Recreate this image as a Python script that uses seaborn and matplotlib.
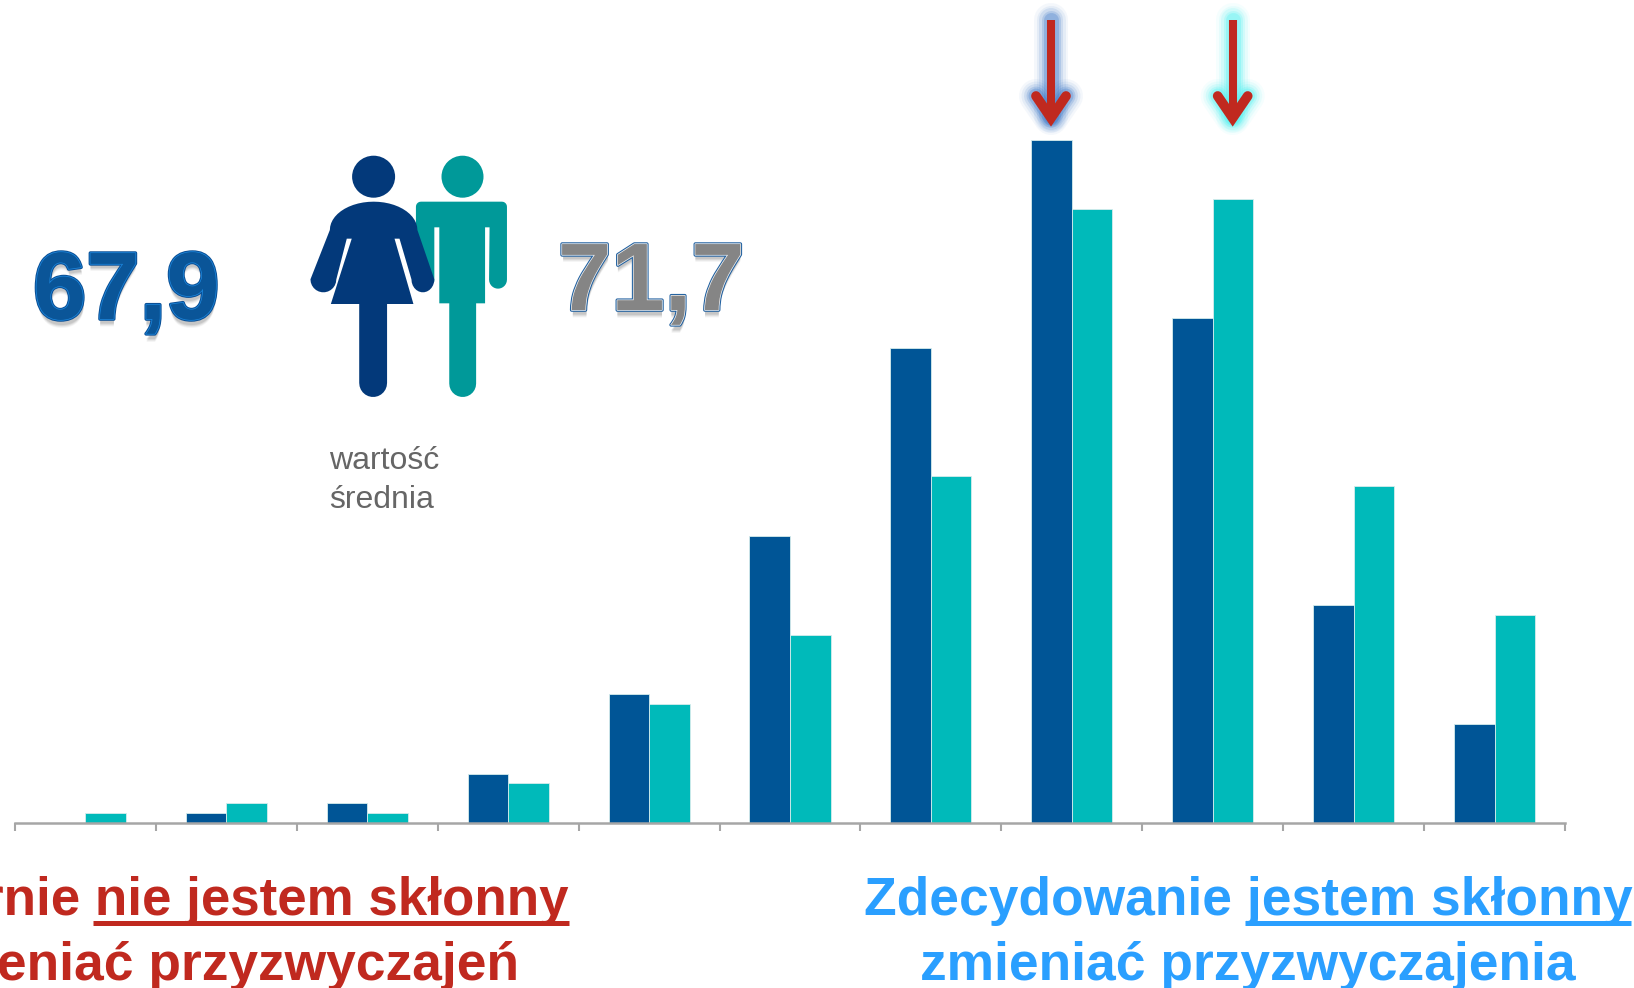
import numpy as np
import pandas as pd
import matplotlib
matplotlib.use("Agg")
import matplotlib.pyplot as plt
import matplotlib.patheffects as pe
from matplotlib.patches import Ellipse, Polygon
import seaborn as sns

# values (no y axis in the source)
categories = [str(i) for i in range(11)]
women = [0, 1, 2, 5, 13, 29, 48, 69, 51, 22, 10]
men = [1, 2, 1, 4, 12, 19, 35, 62, 63, 34, 21]
mean_women = "67,9"
mean_men = "71,7"

W, H = 1634, 988
BLUE = "#005596"
TEAL = "#00BABA"
RED = "#C0291F"
SKY = "#2A9FFF"
GREY = "#A6A6A6"

sns.set_theme(style="white")
plt.rcParams["font.family"] = ["Liberation Sans", "DejaVu Sans"]

df = pd.DataFrame({
    "cat": categories * 2,
    "val": women + men,
    "sex": ["k"] * 11 + ["m"] * 11,
})

fig = plt.figure(figsize=(W / 100, H / 100), dpi=100)
base = 823
ax = fig.add_axes([15 / W, (H - base) / H, 1550 / W, base / H])

sns.barplot(data=df, x="cat", y="val", hue="sex", palette=[BLUE, TEAL], ax=ax, saturation=1,
            width=0.575, gap=0, legend=False, edgecolor="#D6ECEC", linewidth=0.6)
ax.set_xlim(-0.5, 10.5)
ax.set_ylim(0, base / 9.9)
ax.set_xlabel("")
ax.set_ylabel("")
ax.set_yticks([])
ax.set_xticks(np.arange(-0.5, 11, 1))
ax.set_xticklabels([])
ax.tick_params(axis="x", bottom=True, length=6, width=1.5, color=GREY, direction="out", pad=0)
for s in ["top", "left", "right"]:
    ax.spines[s].set_visible(False)
ax.spines["bottom"].set_color(GREY)
ax.spines["bottom"].set_linewidth(1.8)
ax.patch.set_alpha(0)

# overlay in pixel coordinates for the pictograms and captions
ov = fig.add_axes([0, 0, 1, 1])
ov.set_xlim(0, W)
ov.set_ylim(H, 0)
ov.axis("off")
ov.patch.set_alpha(0)


def zp(pts):
    # points measured on the zoomed crop (x scale 2.01, y scale 3)
    return [(x / 2.01, 130 + y / 3) for x, y in pts]


def arc(cx, cy, rx, ry, a0, a1, n=14):
    t = np.radians(np.linspace(a0, a1, n))
    return list(zip(cx + rx * np.cos(t), cy + ry * np.sin(t)))


# man
MAN = "#009999"
ov.add_patch(Ellipse((462.5, 176.7), 42, 42, color=MAN, lw=0))
man_body = (arc(846, 230, 10, 15, 270, 180, 6)
            + [(836, 455), (873, 455), (873, 292), (883, 292), (883, 520), (903, 520)]
            + arc(930, 761, 27, 40, 180, 0)
            + [(957, 520), (975, 520), (975, 292), (984, 292)]
            + arc(1001, 449, 18, 27, 180, 0)
            + arc(1009, 230, 10, 15, 0, -90, 6))
ov.add_patch(Polygon(zp(man_body), closed=True, color=MAN, lw=0))

# woman
NAVY = "#03397A"
ov.add_patch(Ellipse((373.6, 176.7), 43, 42, color=NAVY, lw=0))
woman_body = (arc(751, 300, 88, 85, 270, 180)
              + arc(650, 448, 26, 39, 180, 0)
              + [(697, 326), (707, 326), (665, 522), (722, 522)]
              + arc(750, 759, 28, 42, 180, 0)
              + [(778, 522), (831, 522), (793, 326), (803, 326)]
              + arc(850, 448, 23, 39, 180, 0)
              + arc(751, 300, 88, 85, 0, -90))
ov.add_patch(Polygon(zp(woman_body), closed=True, color=NAVY, lw=0))

ov.text(329, 461, "wartość", fontsize=23, color="#666666", va="center", ha="left")
ov.text(329, 500, "średnia", fontsize=23, color="#666666", va="center", ha="left")


# bevelled numbers, layered strokes plus a soft drop shadow
def bevel(x, y, s, fill, edge, light):
    for off, a in [(8, 0.04), (7, 0.05), (6, 0.07), (5, 0.08)]:
        ov.text(x + 1, y + off, s, fontsize=69, fontweight="bold", color="black", alpha=a,
                ha="left", va="baseline")
    ov.text(x, y, s, fontsize=69, fontweight="bold", color=fill, ha="left", va="baseline",
            path_effects=[pe.Stroke(linewidth=2.6, foreground=edge),
                          pe.Stroke(linewidth=1.1, foreground=light), pe.Normal()])


bevel(33, 319, mean_women, "#0A5598", "#0A4F95", "#1C86DC")
bevel(558, 310, mean_men, "#858585", "#1F5F9F", "#EDEDED")


# arrows with glow
def arrow(x, glow):
    shaft = ([x, x], [20, 116])
    wings = ([x - 15, x, x + 15], [96, 118, 96])
    for lw, a in [(34, 0.05), (29, 0.08), (24, 0.12), (19, 0.18), (15, 0.25)]:
        ov.plot(*shaft, color=glow, lw=lw * 0.72, alpha=a, solid_capstyle="round")
        ov.plot(*wings, color=glow, lw=lw * 0.72, alpha=a, solid_capstyle="round", solid_joinstyle="round")
    ov.plot(*shaft, color=RED, lw=5.8, solid_capstyle="butt")
    ov.plot(*wings, color=RED, lw=7, solid_capstyle="round", solid_joinstyle="miter")


arrow(1051, "#2F6FC4")
arrow(1232.7, "#3FF0F0")

# bottom captions, the left one runs past the edge as in the source
FS = 38.4
ov.text(569, 915, "rnie nie jestem skłonny", fontsize=38.1, fontweight="bold", color=RED,
        ha="right", va="baseline", clip_on=False)
ov.text(519, 980, "zmieniać przyzwyczajeń", fontsize=FS, fontweight="bold", color=RED,
        ha="right", va="baseline", clip_on=False)
ov.plot([93, 569], [923, 923], color=RED, lw=3.6, solid_capstyle="butt")

ov.text(1248, 915, "Zdecydowanie jestem skłonny", fontsize=FS, fontweight="bold", color=SKY,
        ha="center", va="baseline")
ov.text(1248, 980, "zmieniać przyzwyczajenia", fontsize=FS, fontweight="bold", color=SKY,
        ha="center", va="baseline")
ov.plot([1245, 1631], [923, 923], color=SKY, lw=3.6, solid_capstyle="butt")

fig.savefig("out.png", dpi=100, facecolor="white")
